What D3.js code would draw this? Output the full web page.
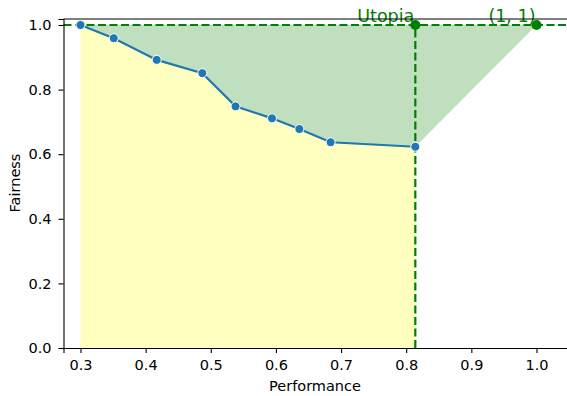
<!DOCTYPE html>
<html>
<head>
<meta charset="utf-8">
<script src="https://cdn.jsdelivr.net/npm/d3@7"></script>
<style>
  body { margin: 0; background: #fff; }
  text { font-family: "DejaVu Sans", sans-serif; }
</style>
</head>
<body>
<div id="chart"></div>
<script>
const performance = [0.300, 0.351, 0.417, 0.487, 0.538, 0.594, 0.636, 0.684, 0.814];
const fairness    = [1.000, 0.959, 0.892, 0.851, 0.748, 0.711, 0.678, 0.637, 0.623];
const utopia = [0.814, 1.0];
const ideal = [1.0, 1.0];
const xTicks = [0.3, 0.4, 0.5, 0.6, 0.7, 0.8, 0.9, 1.0];
const yTicks = [0.0, 0.2, 0.4, 0.6, 0.8, 1.0];

const W = 567, H = 396;
const margin = { top: 19.5, right: 0, bottom: 48, left: 63.5 };

const svg = d3.select('#chart').append('svg')
    .attr('width', W)
    .attr('height', H);

const x = d3.scaleLinear().domain([0.2739, 1.0476]).range([margin.left, margin.left + 651.4 * 0.7737]);
const y = d3.scaleLinear().domain([0, 1.0186]).range([348, 348 - 323 * 1.0186]);

const pts = performance.map((p, i) => [p, fairness[i]]);

// green area between curve and utopia line
const greenPoly = pts.concat([ideal, [performance[0], 1.0]]);
svg.append('path')
    .attr('d', d3.line().x(d => x(d[0])).y(d => y(d[1]))(greenPoly) + 'Z')
    .style('fill', '#bfdfbf');

// yellow area under curve
svg.append('path')
    .datum(pts)
    .attr('d', d3.area().x(d => x(d[0])).y0(y(0)).y1(d => y(d[1])))
    .style('fill', '#ffffbf');

// dashed reference lines
svg.append('line')
    .attr('x1', margin.left).attr('x2', W)
    .attr('y1', y(1)).attr('y2', y(1))
    .style('stroke', '#008000').style('stroke-width', 2.2).style('stroke-dasharray', '8,3.5');
svg.append('line')
    .attr('x1', x(utopia[0])).attr('x2', x(utopia[0]))
    .attr('y1', y(0)).attr('y2', y(1))
    .style('stroke', '#008000').style('stroke-width', 2.2).style('stroke-dasharray', '8,3.5');

// curve
svg.append('path')
    .datum(pts)
    .attr('d', d3.line().x(d => x(d[0])).y(d => y(d[1])))
    .style('fill', 'none')
    .style('stroke', '#1f77b4')
    .style('stroke-width', 2.2);

svg.append('g').selectAll('circle')
    .data(pts)
  .enter().append('circle')
    .attr('cx', d => x(d[0]))
    .attr('cy', d => y(d[1]))
    .attr('r', 4.5)
    .style('fill', '#1f77b4')
    .style('stroke', '#fff')
    .style('stroke-width', 1);

// utopia & ideal markers
[utopia, ideal].forEach(p => {
  svg.append('circle')
      .attr('cx', x(p[0])).attr('cy', y(p[1]))
      .attr('r', 5)
      .style('fill', '#008000');
});

svg.append('text')
    .attr('x', x(utopia[0]) - 1).attr('y', y(1) - 3)
    .attr('text-anchor', 'end')
    .style('font-size', '17.5px')
    .style('fill', '#008000')
    .text('Utopia');
svg.append('text')
    .attr('x', x(ideal[0]) - 1).attr('y', y(1) - 3)
    .attr('text-anchor', 'end')
    .style('font-size', '17.5px')
    .style('fill', '#008000')
    .text('(1, 1)');

// axes
const xAxis = svg.append('g')
    .attr('transform', 'translate(0,' + y(0) + ')')
    .call(d3.axisBottom(x).tickValues(xTicks).tickFormat(d3.format('.1f')).tickSizeOuter(0).tickSize(5).tickPadding(7));
const yAxis = svg.append('g')
    .attr('transform', 'translate(' + margin.left + ',0)')
    .call(d3.axisLeft(y).tickValues(yTicks).tickFormat(d3.format('.1f')).tickSizeOuter(0).tickSize(5).tickPadding(7));

[xAxis, yAxis].forEach(a => {
  a.selectAll('text').style('font-size', '14.5px').style('fill', '#000').style('font-family', '"DejaVu Sans", sans-serif');
  a.selectAll('line').style('stroke', '#000').style('stroke-width', 1.1);
  a.select('.domain').style('stroke', '#000').style('stroke-width', 1.1);
});

// top spine
svg.append('line')
    .attr('x1', margin.left).attr('x2', W)
    .attr('y1', y(1.0186)).attr('y2', y(1.0186))
    .style('stroke', '#000').style('stroke-width', 1.1);

svg.append('text')
    .attr('x', 315).attr('y', 391)
    .attr('text-anchor', 'middle')
    .style('font-size', '14.5px')
    .text('Performance');
svg.append('text')
    .attr('transform', 'translate(19.5,183) rotate(-90)')
    .attr('text-anchor', 'middle')
    .style('font-size', '14.5px')
    .text('Fairness');
</script>
</body>
</html>
